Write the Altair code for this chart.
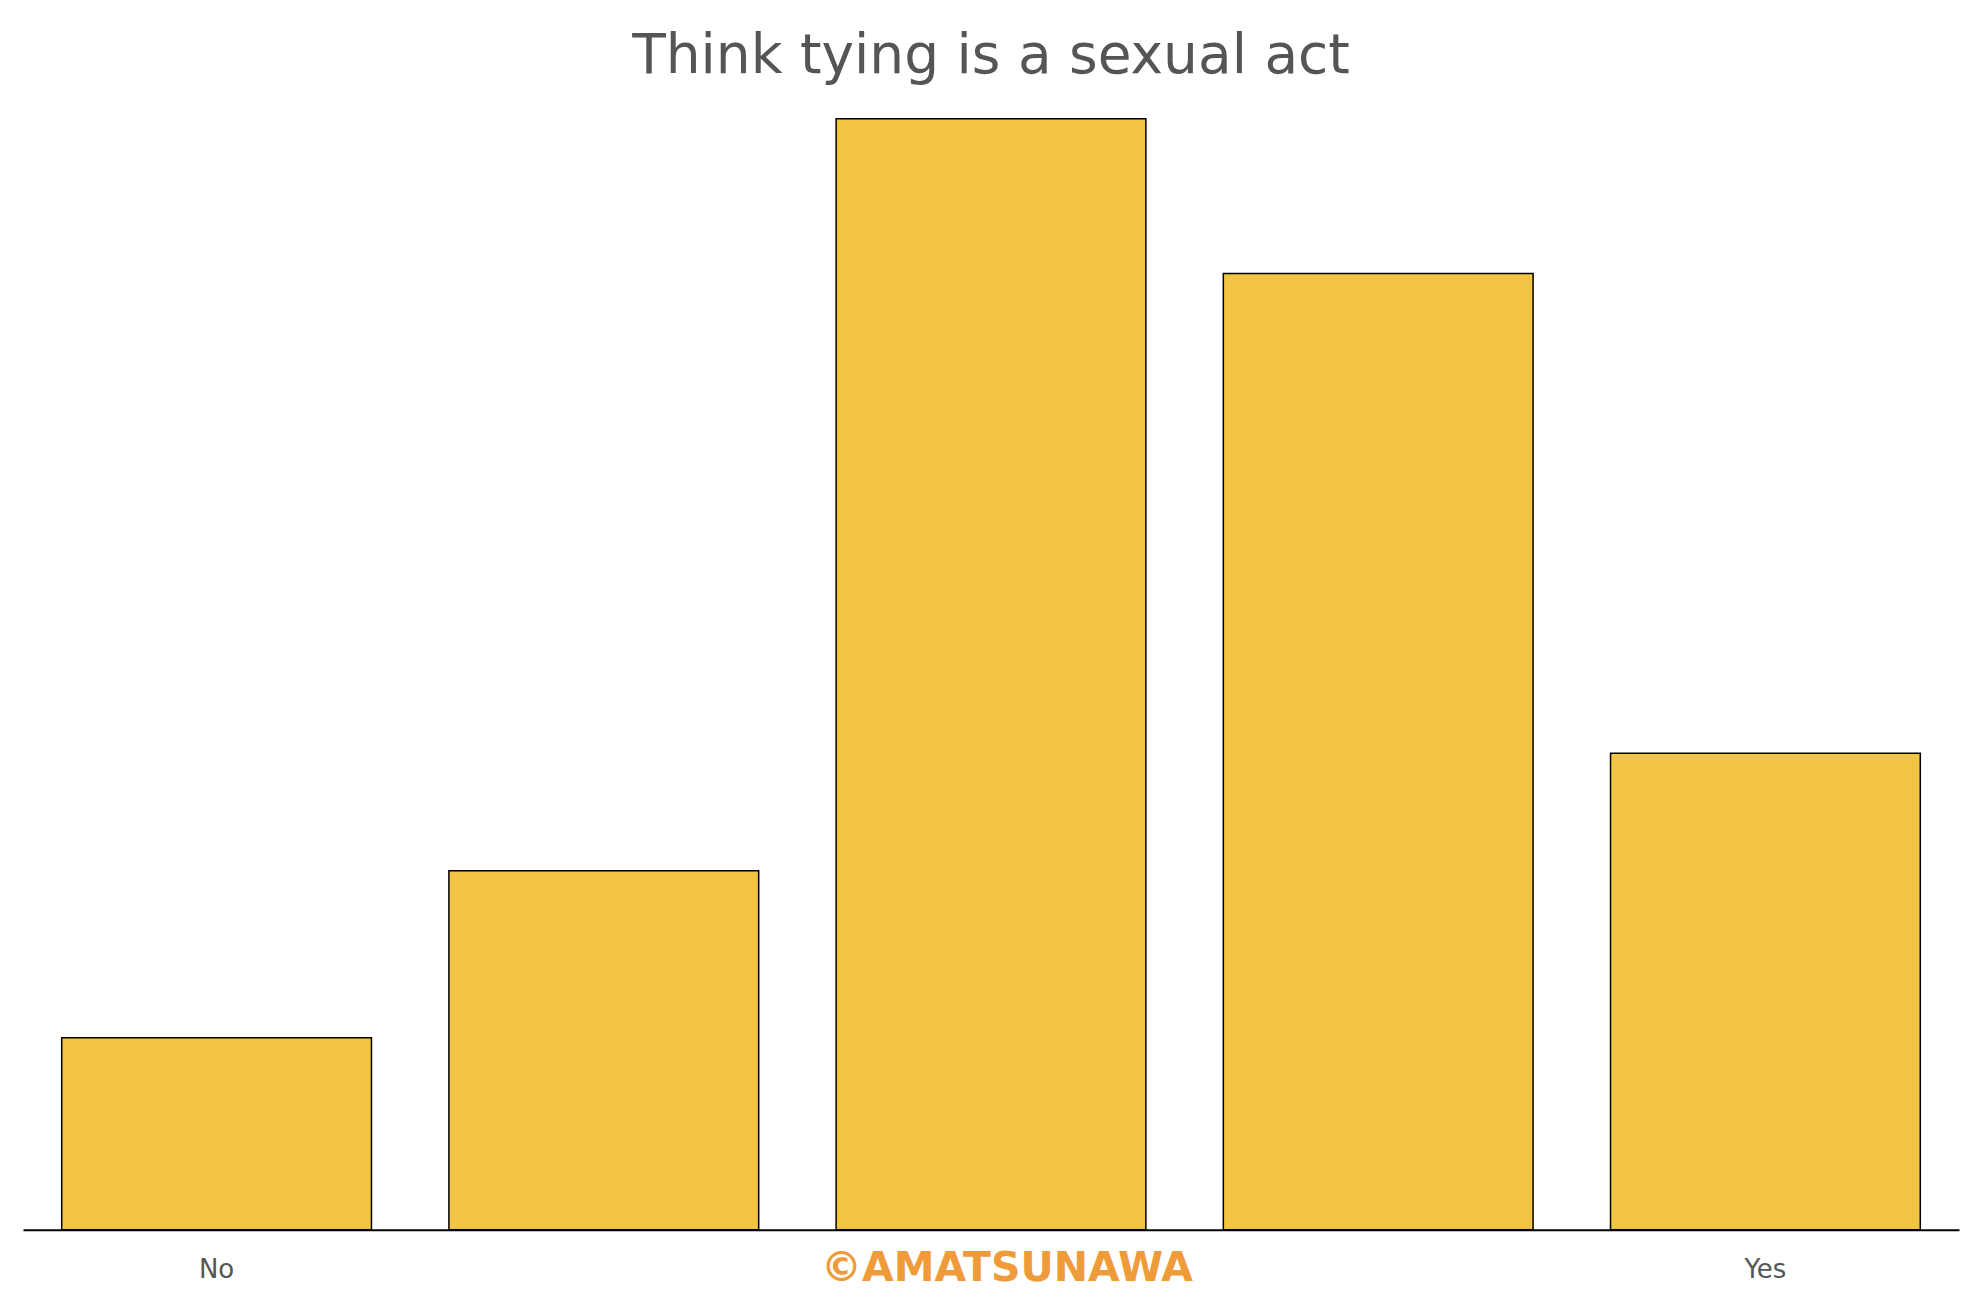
import altair as alt
import pandas as pd

# Data
categories = [1, 2, 3, 4, 5]
values = [6.2, 11.6, 35.9, 30.9, 15.4]
tick_labels = {1: "No", 5: "Yes"}
title_text = "Think tying is a sexual act"
watermark = "©AMATSUNAWA"

df = pd.DataFrame({"answer": categories, "share": values})
wm_df = pd.DataFrame({"answer": [3], "text": [watermark]})

label_expr = " : ".join(
    [f"datum.value == {k} ? '{v}'" for k, v in tick_labels.items()] + ["''"]
)

W, H = 1937, 1130

x_enc = alt.X(
    "answer:O",
    sort=categories,
    scale=alt.Scale(paddingInner=0.2, paddingOuter=0.1),
    axis=alt.Axis(
        title=None,
        labelExpr=label_expr,
        labelAngle=0,
        ticks=False,
        labelFont="DejaVu Sans",
        labelFontSize=26,
        labelColor="#555555",
        labelPadding=27,
        labelBaseline="top",
        domainColor="#000000",
        domainWidth=2,
        grid=False,
    ),
)

bars = alt.Chart(df).mark_bar(
    color="#F2C443", stroke="#000000", strokeWidth=1.5
).encode(
    x=x_enc,
    y=alt.Y("share:Q", scale=alt.Scale(domain=[0, 36.5]), axis=None),
)

wm = alt.Chart(wm_df).mark_text(
    font="DejaVu Sans",
    fontWeight="bold",
    fontSize=41,
    color="#EF9B3A",
    align="center",
    baseline="middle",
    dx=16,
).encode(
    x=alt.X("answer:O", sort=categories),
    y=alt.value(H + 39),
    text="text:N",
)

chart = alt.layer(bars, wm).properties(
    width=W,
    height=H,
    background="#ffffff",
    title=alt.TitleParams(
        text=title_text,
        font="DejaVu Sans",
        fontSize=55,
        fontWeight="normal",
        color="#555555",
        anchor="middle",
        baseline="alphabetic",
        offset=-28,
    ),
    autosize=alt.AutoSizeParams(type="none"),
    padding={"left": 15, "top": 92, "right": 20, "bottom": 60},
).configure_view(stroke="transparent", strokeWidth=0)

chart.save("out.html", embed_options={"renderer": "svg", "actions": False})
